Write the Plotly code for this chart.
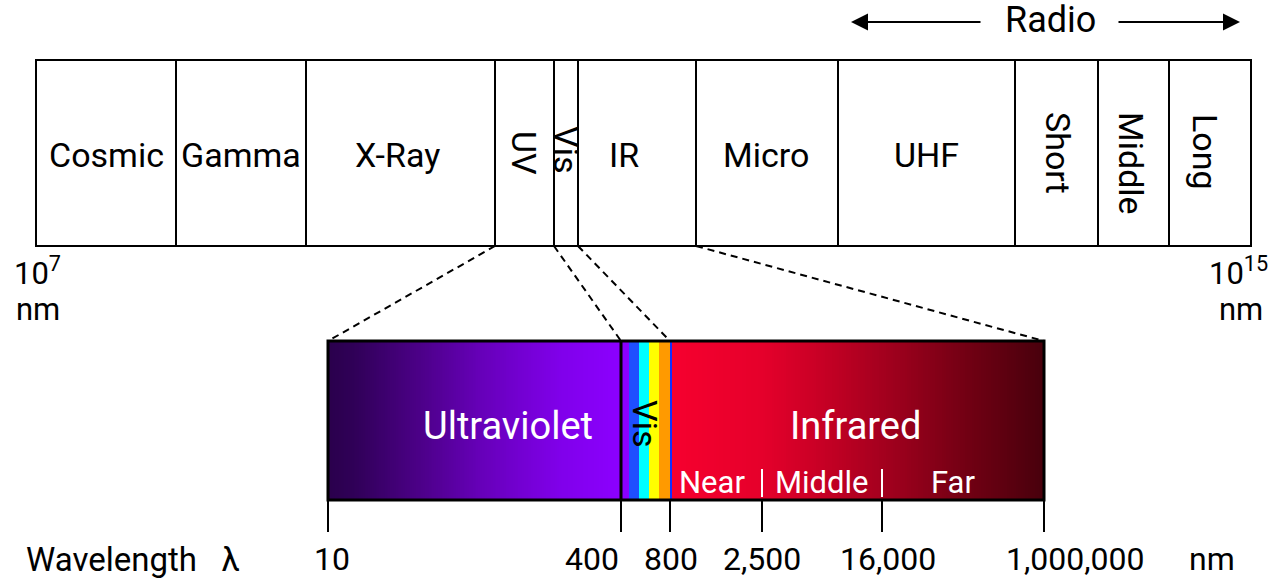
import numpy as np
import plotly.graph_objects as go

# ---------------- data (diagram units = horizontal position along the chart) -------------
top_names = ["Cosmic", "Gamma", "X-Ray", "UV", "Vis", "IR", "Micro", "UHF", "Short", "Middle", "Long"]
top_edges = [36, 176, 306, 495, 554, 578, 696, 838, 1015, 1098, 1169, 1251]
top_label_x = [106, 241, 397, 524, 566, 624, 766, 926, 1058, 1131, 1205]
top_label_rot = [0, 0, 0, 90, 90, 0, 0, 0, 90, 90, 90]
top_label_y = [155, 155, 155, 153, 149, 155, 155, 155, 153, 163, 152]

wl_labels = ["10", "400", "800", "2,500", "16,000", "1,000,000"]
wl_pos = [328, 621, 670, 762, 882, 1044]
wl_label_x = [332, 592, 671, 762, 888, 1075]

vis_colors = ["#8a00ff", "#1f4fff", "#00ffff", "#ffff00", "#ff9a00"]
vis_edges = [622, 629, 639, 649, 659, 670]

uv_stop_pos = [328, 355, 420, 480, 560, 621]
uv_stop_col = ["#2a004c", "#300058", "#4c0088", "#6600b8", "#8000ea", "#8c00ff"]
ir_stop_pos = [670, 760, 820, 900, 970, 1044]
ir_stop_col = ["#f6002e", "#e6002b", "#c80025", "#9a001c", "#700013", "#48000c"]

ir_sub_names = ["Near", "Middle", "Far"]
ir_sub_x = [712, 822, 953]

bar_top, bar_bot = 60, 246
low_top, low_bot = 341, 500

FONT = "Roboto"

fig = go.Figure()


def gradient(stop_pos, stop_col, n=160):
    x0, x1 = stop_pos[0], stop_pos[-1]
    edges = np.linspace(x0, x1, n + 1)
    centers = (edges[:-1] + edges[1:]) / 2
    cs = [[(p - x0) / (x1 - x0), c] for p, c in zip(stop_pos, stop_col)]
    fig.add_trace(go.Heatmap(x=edges, y=[low_top, low_bot], z=[centers], zmin=x0, zmax=x1,
                             colorscale=cs, showscale=False, hoverinfo="skip"))


gradient(uv_stop_pos, uv_stop_col)
gradient([p + 2 for p in ir_stop_pos[:1]] + ir_stop_pos[1:], ir_stop_col)

shapes = []
# top band boxes
for i in range(len(top_names)):
    shapes.append(dict(type="rect", xref="x", yref="y", x0=top_edges[i], x1=top_edges[i + 1],
                       y0=bar_top, y1=bar_bot, line=dict(color="black", width=2),
                       fillcolor="rgba(0,0,0,0)"))
# visible stripes
for i, c in enumerate(vis_colors):
    shapes.append(dict(type="rect", xref="x", yref="y", x0=vis_edges[i], x1=vis_edges[i + 1],
                       y0=low_top, y1=low_bot, line=dict(width=0), fillcolor=c))
# separators in lower bar
shapes.append(dict(type="line", xref="x", yref="y", x0=wl_pos[1], x1=wl_pos[1], y0=low_top, y1=low_bot,
                   line=dict(color="black", width=3)))
shapes.append(dict(type="line", xref="x", yref="y", x0=wl_pos[2] + 1, x1=wl_pos[2] + 1, y0=low_top, y1=low_bot,
                   line=dict(color="#1030ff", width=2)))
# lower bar outline
shapes.append(dict(type="rect", xref="x", yref="y", x0=wl_pos[0], x1=wl_pos[-1], y0=low_top, y1=low_bot,
                   line=dict(color="black", width=3), fillcolor="rgba(0,0,0,0)"))
# tick marks
for p in wl_pos:
    shapes.append(dict(type="line", xref="x", yref="y", x0=p, x1=p, y0=low_bot, y1=532,
                       line=dict(color="black", width=2)))
# IR sub-dividers
for p in wl_pos[3:5]:
    shapes.append(dict(type="line", xref="x", yref="y", x0=p, x1=p, y0=469, y1=497,
                       line=dict(color="white", width=2)))
# dashed zoom lines
zoom_from = [top_edges[3], top_edges[4], top_edges[5], top_edges[6]]
zoom_to = [wl_pos[0], wl_pos[1], wl_pos[2], wl_pos[5]]
for a, b in zip(zoom_from, zoom_to):
    shapes.append(dict(type="line", xref="x", yref="y", x0=a, x1=b, y0=bar_bot, y1=low_top,
                       line=dict(color="black", width=2, dash="7px,5px")))

ann = []
for name, x, y, r in zip(top_names, top_label_x, top_label_y, top_label_rot):
    ann.append(dict(x=x, y=y, text=name, showarrow=False, textangle=r,
                    font=dict(family=FONT, size=34, color="black"), xanchor="center", yanchor="middle"))

for t, x in zip(wl_labels, wl_label_x):
    ann.append(dict(x=x, y=559, text=t, showarrow=False,
                    font=dict(family=FONT, size=32, color="black"), xanchor="center", yanchor="middle"))
ann.append(dict(x=1212, y=559, text="nm", showarrow=False,
                font=dict(family=FONT, size=32, color="black"), xanchor="center", yanchor="middle"))
ann.append(dict(x=24, y=559, text="Wavelength&nbsp;&nbsp;&nbsp;λ", showarrow=False,
                font=dict(family=FONT, size=33, color="black"), xanchor="left", yanchor="middle"))

ann.append(dict(x=508, y=426, text="Ultraviolet", showarrow=False,
                font=dict(family=FONT, size=38, color="white"), xanchor="center", yanchor="middle"))
ann.append(dict(x=855, y=426, text="Infrared", showarrow=False,
                font=dict(family=FONT, size=38, color="white"), xanchor="center", yanchor="middle"))
ann.append(dict(x=645, y=423, text="Vis", showarrow=False, textangle=90,
                font=dict(family=FONT, size=34, color="black"), xanchor="center", yanchor="middle"))
for t, x in zip(ir_sub_names, ir_sub_x):
    ann.append(dict(x=x, y=482, text=t, showarrow=False,
                    font=dict(family=FONT, size=31, color="white"), xanchor="center", yanchor="middle"))

# 10^7 nm and 10^15 nm
ann.append(dict(x=12, y=271, text="10<sup>7</sup>", showarrow=False,
                font=dict(family=FONT, size=31, color="black"), xanchor="left", yanchor="middle"))
ann.append(dict(x=38, y=309, text="nm", showarrow=False,
                font=dict(family=FONT, size=31, color="black"), xanchor="center", yanchor="middle"))
ann.append(dict(x=1270, y=271, text="10<sup>15</sup>", showarrow=False,
                font=dict(family=FONT, size=31, color="black"), xanchor="right", yanchor="middle"))
ann.append(dict(x=1241, y=309, text="nm", showarrow=False,
                font=dict(family=FONT, size=31, color="black"), xanchor="center", yanchor="middle"))

# Radio with arrows
ann.append(dict(x=1050, y=20, text="Radio", showarrow=False,
                font=dict(family=FONT, size=36, color="black"), xanchor="center", yanchor="middle"))
ann.append(dict(x=851, y=22, ax=982, ay=22, axref="x", ayref="y", xref="x", yref="y", text="",
                showarrow=True, arrowhead=2, arrowsize=1.7, arrowwidth=2, arrowcolor="black"))
ann.append(dict(x=1240, y=22, ax=1117, ay=22, axref="x", ayref="y", xref="x", yref="y", text="",
                showarrow=True, arrowhead=2, arrowsize=1.7, arrowwidth=2, arrowcolor="black"))

fig.update_layout(
    width=1279, height=581, margin=dict(l=0, r=0, t=0, b=0),
    paper_bgcolor="white", plot_bgcolor="white",
    xaxis=dict(range=[0, 1279], visible=False, fixedrange=True),
    yaxis=dict(range=[581, 0], visible=False, fixedrange=True),
    shapes=shapes, annotations=ann, showlegend=False,
)

fig.write_html("out.html", config={"displayModeBar": False},
               post_script="document.body.style.margin='0';document.body.style.overflow='hidden';")
